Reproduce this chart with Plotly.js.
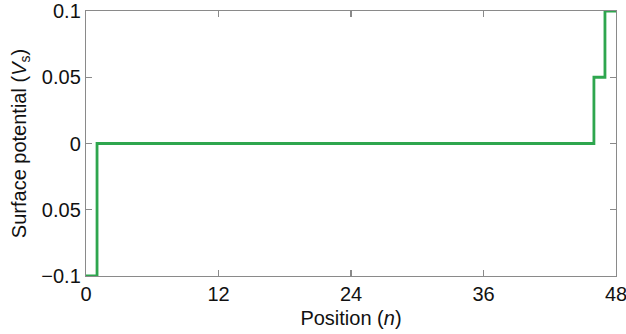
<!DOCTYPE html>
<html>
<head>
<meta charset="utf-8">
<script src="https://cdn.plot.ly/plotly-3.0.1.min.js"></script>
<style>html,body{margin:0;padding:0;background:#fff;}#chart{width:626px;height:334px;}</style>
</head>
<body>
<div id="chart"></div>
<script>
const positions = [0, 1, 46, 47, 48];
const potentials = [-0.1, 0, 0.05, 0.1, 0.1];
const xTickVals = [0, 12, 24, 36, 48];
const yTickVals = [-0.1, -0.05, 0, 0.05, 0.1];
const yTickText = ['\u22120.1', '0.05', '0', '0.05', '0.1'];

const trace = {
  x: positions, y: potentials, type: 'scatter', mode: 'lines',
  line: {shape: 'hv', color: '#2ea64e', width: 2.8}, hoverinfo: 'skip', cliponaxis: false
};
const axisCommon = {
  showgrid: false, zeroline: false, showline: true, linecolor: '#8a8a8a', linewidth: 1.2,
  mirror: 'ticks', ticks: 'inside', ticklen: 6, tickcolor: '#8a8a8a', tickwidth: 1.2,
  ticklabeloverflow: 'allow',
  tickfont: {family: 'Liberation Sans, Arial, sans-serif', size: 20, color: '#111'}
};
const layout = {
  width: 626, height: 334,
  margin: {l: 86, r: 10, t: 11, b: 58},
  paper_bgcolor: '#fff', plot_bgcolor: '#fff', showlegend: false,
  font: {family: 'Liberation Sans, Arial, sans-serif', size: 20, color: '#111'},
  xaxis: Object.assign({}, axisCommon, {
    range: [0, 48], tickmode: 'array', tickvals: xTickVals,
    title: {text: 'Position (<i>n</i>)', standoff: 6, font: {size: 20}}
  }),
  yaxis: Object.assign({}, axisCommon, {
    range: [-0.1, 0.1], tickmode: 'array', tickvals: yTickVals, ticktext: yTickText,
    title: {text: 'Surface potential (<i>V</i><sub>s</sub>)', standoff: 9, font: {size: 20}}
  })
};
Plotly.newPlot('chart', [trace], layout, {displayModeBar: false, staticPlot: true});
</script>
</body>
</html>
